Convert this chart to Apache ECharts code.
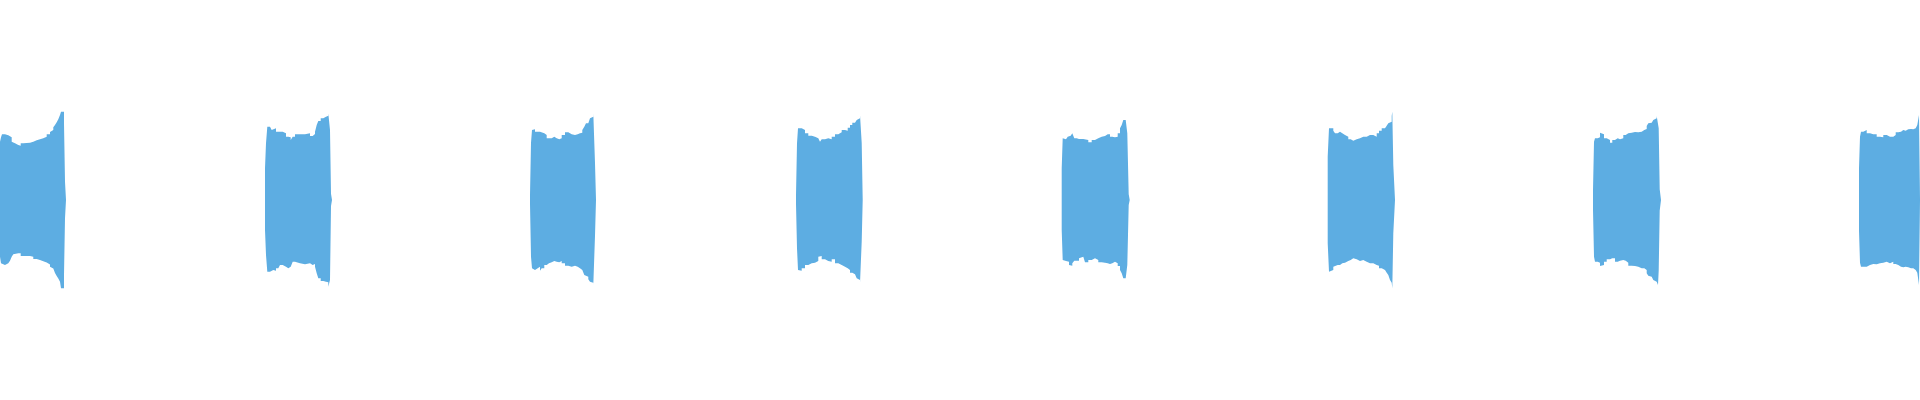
<!DOCTYPE html>
<html>
<head>
<meta charset="utf-8">
<script src="https://cdn.jsdelivr.net/npm/echarts@6/dist/echarts.min.js"></script>
<style>html,body{margin:0;padding:0;background:#fff}#chart{width:1920px;height:400px}</style>
</head>
<body>
<div id="chart"></div>
<script>
// Each row: [sample position, upper envelope, lower envelope]
const block1 = [[0,58.3,-56.7],[1,62.7,-63.3],[2,65.7,-65],[5,66,-65],[6.7,64.7,-63.3],[8.3,65.3,-62],[10,62.7,-60.7],[11.7,58.3,-56.7],[13.3,56.7,-54.3],[15,55,-53.3],[18.3,54.3,-53.3],[20.7,56.7,-56],[23.3,57.3,-56],[30,58.3,-56.7],[33.3,59.7,-59],[36.7,60.7,-60],[40,61.7,-61.3],[43.3,63.3,-62.5],[46.7,65.7,-64.5],[50,68,-66.7],[51.7,70,-68.5],[53.3,72.7,-70.5],[55,75,-73],[56.7,77.7,-76],[58.3,80.7,-78.5],[60,85,-81.7],[61,88.3,-88.3],[64,76.7,-75],[65,18.3,-18.3],[66,0,0]];
const block2 = [[265,31.7,-30],[266,56.7,-55],[267.3,73.3,-71.7],[270,72.7,-71.7],[271.7,70,-70],[273.3,71.7,-70.7],[276,68.3,-68.3],[278.3,66.7,-66.7],[280,68.3,-65],[282.7,69.3,-63.3],[284,66.7,-66.7],[286,63.3,-68.3],[288.3,62.7,-66.7],[290.7,60,-65],[292.7,63.3,-61.7],[295,65.7,-63.3],[300,65.7,-64.3],[305,66.7,-65],[306.7,66.7,-63.3],[310,64,-65],[312.7,66,-64],[315,68.3,-66.7],[316.7,75,-73.3],[318.3,79,-78.3],[320.7,81.7,-81],[323.3,83.3,-81.7],[326,84.3,-82.3],[328.3,86.7,-86.7],[330,70,-80],[331,6.3,-6],[332,0,0]];
const block3 = [[530,5,-4],[531,57.3,-56.7],[532,70,-68.3],[533.3,70.7,-70],[535,68.3,-68.3],[537.7,68.3,-66.7],[540,70,-70.7],[541.7,66.7,-68.3],[544.3,65,-65],[546.7,61.7,-63.3],[549,61.7,-62.3],[551.7,63.3,-61],[554.3,61.7,-61.7],[556.7,60.7,-62.3],[559.3,61.7,-61],[561.7,65,-63.3],[565,67.7,-65.7],[568.3,65.7,-66.7],[571.7,65,-65.7],[575,65.7,-66.7],[577.7,66.7,-68.3],[580,67.3,-70],[582.3,70,-71.7],[584.3,73.3,-75],[586,76.7,-76.7],[588.3,78.3,-79.3],[590,81.7,-81.7],[591.7,83.3,-82.7],[593.3,86.7,-85],[595,36.7,-35.7],[596,0,0]];
const block4 = [[796,5,-4],[797,56.7,-48.3],[798,71.7,-70],[800,71.7,-70.7],[801.7,70,-68.3],[805,66.7,-65],[808.3,64.3,-63.3],[811.7,63.3,-62.7],[815,61.7,-61],[818.3,60.7,-56.7],[820,58.3,-56],[821.7,60.7,-59.3],[825,61.7,-61],[828.3,60.7,-61.7],[831.7,63.3,-59.3],[835,65.7,-63.3],[838.3,67.7,-65],[841.7,70,-66.7],[845,69.3,-68.3],[847.7,72.3,-70],[850,75,-72.7],[852.3,77.3,-74.3],[855,78.3,-76],[856.7,80,-78.3],[858.3,81.7,-80],[860,85,-83.3],[861.7,57.3,-41.7],[862.7,0,0]];
const block5 = [[1061.7,31.7,-30],[1062.7,61.7,-60],[1064.3,60.7,-61],[1066,61.7,-60],[1067.7,63.3,-61.7],[1069,64.3,-65],[1070.7,65.7,-65.7],[1072.3,66.7,-63.3],[1074.3,61.7,-60.7],[1076.7,61,-60.7],[1079,59.3,-58.3],[1081,61,-56.7],[1083.3,62.7,-58.3],[1085,60,-62.3],[1088.3,57.7,-60],[1091.7,60,-58.3],[1095,61.7,-60],[1098.3,63.3,-62.3],[1101.7,64,-62.7],[1105,65.7,-63.3],[1107.7,65.7,-64],[1110,63.3,-63.3],[1112.3,62.7,-61.7],[1115,63.3,-63.3],[1117.7,66.7,-66],[1120,71.7,-70],[1121.7,75,-73.3],[1123.3,80,-78.3],[1125.7,80.7,-80],[1127.3,66.7,-65],[1128.7,5.7,-5],[1129.7,0,0]];
const block6 = [[1327.7,43.3,-43.3],[1329,71.7,-71.7],[1331,71.7,-70],[1333.3,69.3,-66.7],[1335,66.7,-65],[1337.7,68.3,-65],[1340,66.7,-63.3],[1342.3,65,-62.7],[1345,63.3,-61],[1348.3,60.7,-60],[1350.7,59.3,-58.3],[1353.3,60.7,-59.3],[1356.7,61.7,-61],[1360,63.3,-60],[1363.3,63.3,-61.7],[1366.7,65,-63.3],[1370,65,-63.3],[1373.3,63.3,-65],[1376.7,66.7,-65.7],[1379,69.3,-68.3],[1381.7,71.7,-70],[1385,73.3,-71.7],[1386.7,74.3,-72.7],[1388.3,76.7,-75],[1390,78.3,-80],[1391.7,84,-82.7],[1392.3,88.3,-88.3],[1393.3,35,-33.3],[1395,0,0]];
const block7 = [[1593,10,-10],[1594,58.3,-56.7],[1595,61.7,-61.7],[1597.7,62.7,-62.7],[1600,67.3,-66],[1601.7,65.7,-65],[1604,61.7,-61.7],[1606.7,60,-59.3],[1610,57.3,-58.3],[1612.3,60,-58.3],[1615,61.7,-61.7],[1617.7,60.7,-60.7],[1620,61.7,-60],[1623.3,65,-60.7],[1625.7,66.7,-62.7],[1628.3,67.3,-65.7],[1631.7,68,-66],[1635,67.7,-66.7],[1638.3,68.3,-68.3],[1641.7,70,-68.3],[1644.3,71,-70],[1646.7,74,-73.3],[1648.3,76.7,-75.7],[1650,77.3,-76.7],[1651.7,78.3,-78.3],[1653.3,80,-80],[1655,81.7,-81.7],[1656.7,84,-83.3],[1658,85,-85],[1658.7,71.7,-70.7],[1659.7,10.7,-10.7],[1661,0,0]];
const block8 = [[1859,31.7,-30.7],[1860,63.3,-62.7],[1861,68.3,-66.7],[1863.3,68.3,-68.3],[1865,70,-66.7],[1866.7,66.7,-65],[1870,65.7,-64],[1873.3,65.7,-64.3],[1876.7,63.3,-63.3],[1880,62.7,-62.7],[1883.3,65,-61.7],[1886.7,63.3,-63.3],[1890,63.3,-61.7],[1893.3,65,-64],[1895.7,67.7,-65],[1898.3,68.3,-66.7],[1901,70,-67.3],[1903.3,69.3,-66.7],[1905.7,70.7,-67.3],[1908.3,71,-68.3],[1911,70.7,-68.3],[1913.3,71.7,-70],[1915.7,73.3,-70.7],[1917.3,75,-72.7],[1919,85,-85],[1920,85,-85]];

const blocks = [block1, block2, block3, block4, block5, block6, block7, block8];
const upper = [], lower = [];
blocks.forEach(b => b.forEach(r => { upper.push([r[0], r[1]]); lower.push([r[0], r[2]]); }));

const color = '#5dade2';
const chart = echarts.init(document.getElementById('chart'));
const mk = (name, data) => ({
  name, type: 'line', data, step: 'end', symbol: 'none', silent: true,
  lineStyle: { width: 0 }, areaStyle: { color: color, opacity: 1 }
});
chart.setOption({
  animation: false,
  grid: { left: 0, right: 0, top: 0, bottom: 0 },
  xAxis: { type: 'value', min: 0, max: 1920, interval: 100, show: false },
  yAxis: { type: 'value', min: -200, max: 200, interval: 100, show: false },
  series: [mk('upper', upper), mk('lower', lower)]
});
</script>
</body>
</html>
